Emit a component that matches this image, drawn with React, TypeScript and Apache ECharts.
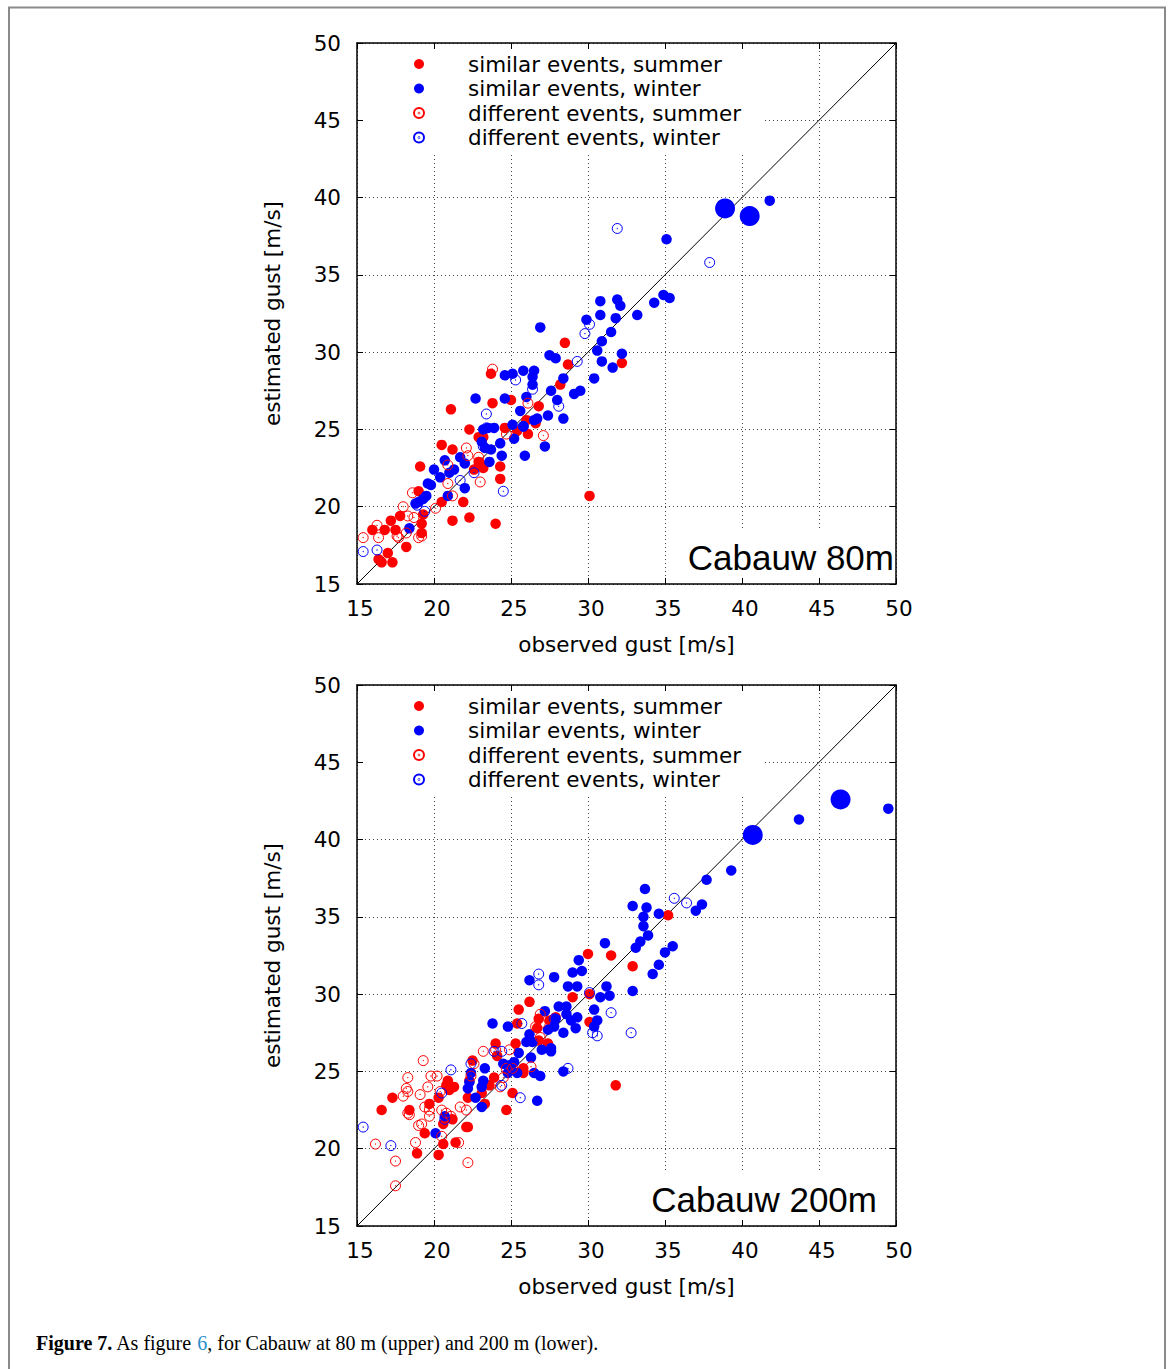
import React, { useEffect, useRef } from "react";
import * as echarts from "echarts";

// ---------- data ----------
const AXIS_MIN = 15;
const AXIS_MAX = 50;
const AXIS_STEP = 5;
const DIAGONAL = [[15, 15], [50, 50]];

const NAMES = [
  "similar events, summer",
  "similar events, winter",
  "different events, summer",
  "different events, winter",
];

// Cabauw 80 m
const SIM_SUMMER_80 = [
  [30.1, 20.7], [28.5, 30.6], [28.7, 29.2], [32.2, 29.3], [28.2, 27.9], [23.7, 28.6], [25.0, 26.9], [23.8, 26.7],
  [21.1, 26.3], [26.8, 26.5], [26.6, 25.4], [26.0, 25.6], [22.3, 25.0], [24.6, 25.1], [25.4, 24.9], [26.1, 24.7],
  [22.9, 24.5], [23.2, 24.5], [20.5, 24.0], [21.2, 23.7], [19.1, 22.6], [24.3, 22.6], [24.3, 21.8], [22.6, 22.4],
  [23.0, 22.8], [21.9, 20.3], [21.2, 19.1], [22.3, 19.3], [24.0, 18.9], [20.5, 20.3], [19.0, 21.0], [17.8, 19.4],
  [17.2, 19.1], [16.0, 18.5], [16.8, 18.5], [17.5, 18.5], [18.2, 17.4], [16.4, 16.6], [16.6, 16.4], [17.3, 16.4],
  [17.0, 17.0], [19.2, 18.9], [19.2, 18.3], [19.3, 19.5], [22.9, 22.9], [23.2, 22.5],
];
const SIM_WINTER_80 = [
  [41.8, 39.8], [35.1, 37.3], [34.3, 33.2], [34.9, 33.7], [35.3, 33.5], [33.2, 32.4], [30.8, 33.3], [31.9, 33.4],
  [32.1, 33.0], [30.8, 32.4], [31.8, 32.2], [29.9, 32.1], [31.5, 31.3], [30.9, 30.7], [30.6, 30.1], [30.9, 29.4],
  [31.6, 29.0], [32.2, 29.9], [30.4, 28.3], [26.9, 31.6], [27.5, 29.8], [27.9, 29.6], [28.4, 28.3], [27.6, 27.5],
  [29.1, 27.3], [29.5, 27.5], [28.0, 26.9], [28.4, 25.7], [27.4, 25.9], [26.7, 25.7], [26.5, 25.6], [24.6, 28.5],
  [25.1, 28.6], [25.8, 28.8], [26.5, 28.8], [26.4, 28.4], [26.4, 27.9], [26.0, 27.1], [24.6, 27.0], [22.7, 27.0],
  [25.6, 26.2], [25.1, 25.3], [25.8, 25.2], [25.2, 24.4], [25.9, 23.3], [27.2, 23.9], [24.4, 23.3], [24.3, 24.1],
  [23.5, 25.1], [23.9, 25.1], [23.2, 25.0], [23.1, 24.2], [23.3, 23.8], [23.7, 23.7], [23.6, 22.9], [21.7, 23.2],
  [22.0, 22.8], [20.7, 23.0], [20.0, 22.4], [20.4, 21.9], [21.3, 22.4], [21.0, 22.2], [19.6, 21.5], [19.8, 21.4],
  [22.0, 21.2], [20.9, 20.7], [19.5, 20.7], [19.3, 20.5], [18.8, 20.2], [19.0, 20.3], [18.4, 18.6],
];
const SIM_WINTER_80_BIG = [[38.9, 39.3], [40.5, 38.8]];
const DIFF_SUMMER_80 = [
  [23.8, 28.9], [26.1, 26.7], [27.1, 24.6], [24.7, 24.7], [22.1, 23.8], [22.2, 23.3], [22.9, 23.2], [20.9, 22.7],
  [20.9, 21.5], [23.0, 21.6], [21.2, 20.7], [18.6, 20.9], [18.0, 20.0], [18.3, 19.4], [18.7, 19.3], [20.1, 19.9],
  [19.2, 18.1], [19.0, 18.0], [15.4, 18.0], [16.4, 18.0], [16.3, 18.8], [17.6, 18.1], [17.7, 18.0], [18.2, 18.3],
];
const DIFF_WINTER_80 = [
  [31.9, 38.0], [37.9, 35.8], [30.1, 31.8], [29.8, 31.2], [29.3, 29.4], [25.3, 28.2], [26.4, 27.6], [28.1, 26.5],
  [23.4, 26.0], [24.5, 21.0], [25.8, 25.2], [23.4, 25.1], [23.2, 23.9], [22.6, 22.2], [21.7, 21.7], [18.9, 20.1],
  [19.4, 19.7], [15.4, 17.1], [16.3, 17.2],
];

// Cabauw 200 m
const SIM_SUMMER_200 = [
  [35.2, 35.1], [30.0, 32.6], [31.5, 32.5], [32.9, 31.8], [31.8, 24.1], [29.0, 29.8], [30.1, 30.0], [30.1, 28.2],
  [26.2, 29.5], [25.5, 29.0], [25.4, 28.1], [26.8, 28.4], [26.7, 27.8], [27.5, 28.3], [27.9, 28.5], [26.8, 27.0],
  [27.4, 26.8], [24.0, 26.8], [25.3, 26.8], [22.5, 25.7], [24.1, 26.0], [25.8, 24.9], [25.0, 25.3], [25.8, 25.2],
  [23.9, 24.6], [23.6, 24.1], [25.1, 23.6], [24.7, 22.5], [20.9, 24.4], [21.3, 24.0], [21.0, 23.8], [20.8, 24.1],
  [20.3, 23.3], [19.7, 22.9], [18.4, 22.5], [17.3, 23.3], [16.6, 22.5], [22.3, 24.4], [22.2, 23.3], [22.1, 21.4],
  [22.2, 21.4], [20.6, 21.6], [21.2, 21.9], [19.4, 21.0], [20.6, 20.3], [21.4, 20.4], [18.9, 19.7], [20.3, 19.6],
  [23.1, 23.6], [23.3, 22.9],
];
const SIM_WINTER_200 = [
  [49.5, 42.0], [43.7, 41.3], [39.3, 38.0], [37.7, 37.4], [33.7, 36.8], [32.9, 35.7], [33.8, 35.6], [33.6, 35.0],
  [34.6, 35.2], [37.4, 35.8], [37.0, 35.4], [33.6, 34.4], [33.9, 33.8], [33.4, 33.4], [33.1, 33.0], [31.1, 33.3],
  [35.5, 33.1], [35.0, 32.7], [34.6, 31.9], [34.2, 31.3], [32.9, 30.2], [31.2, 30.5], [30.8, 29.8], [31.4, 29.9],
  [29.4, 32.2], [29.0, 31.4], [29.6, 31.5], [28.7, 30.5], [29.3, 30.5], [30.4, 29.0], [30.6, 28.3], [30.4, 27.9],
  [27.8, 31.1], [26.2, 30.9], [28.1, 29.2], [28.6, 29.2], [28.6, 28.7], [28.9, 28.3], [29.3, 28.5], [29.2, 27.8],
  [28.4, 27.5], [27.2, 28.9], [27.9, 28.4], [27.8, 27.9], [27.4, 27.7], [23.8, 28.1], [24.8, 27.9], [26.2, 27.4],
  [26.0, 26.9], [26.4, 26.9], [27.0, 26.4], [27.6, 26.5], [27.6, 26.3], [25.5, 26.2], [26.3, 25.9], [24.5, 25.5],
  [24.9, 25.4], [25.2, 25.6], [25.4, 24.9], [24.8, 24.9], [23.3, 25.2], [26.5, 24.9], [26.9, 24.7], [28.4, 25.0],
  [26.7, 23.1], [22.4, 24.9], [22.3, 24.3], [23.2, 24.4], [23.1, 24.0], [22.2, 23.9], [22.7, 23.3], [23.1, 22.7],
  [20.7, 22.1], [20.1, 21.0],
];
const SIM_WINTER_200_BIG = [[46.4, 42.6], [40.7, 40.3]];
const DIFF_SUMMER_200 = [
  [19.3, 25.7], [18.3, 24.6], [19.8, 24.7], [20.2, 24.7], [18.2, 23.9], [18.3, 23.7], [18.0, 23.4], [19.6, 24.0],
  [19.1, 23.5], [19.4, 22.7], [19.7, 22.5], [19.7, 22.1], [18.3, 22.3], [18.4, 22.2], [19.2, 21.6], [19.0, 21.5],
  [18.8, 20.4], [16.2, 20.3], [17.5, 19.2], [17.5, 17.6], [22.2, 19.1], [20.5, 20.8], [21.6, 20.4], [20.5, 22.5],
  [20.8, 22.3], [21.1, 22.1], [21.7, 22.7], [22.1, 22.5], [20.4, 23.7], [22.6, 25.5], [23.2, 26.3], [24.0, 26.4],
  [24.9, 26.4], [22.4, 24.7], [24.5, 24.6], [24.3, 24.0], [24.7, 25.2], [25.1, 25.2], [26.3, 25.3], [26.6, 27.9],
  [26.9, 28.1], [26.9, 28.7], [26.9, 27.2],
];
const DIFF_WINTER_200 = [
  [35.6, 36.2], [36.4, 35.9], [15.4, 21.4], [17.2, 20.2], [21.1, 25.1], [20.5, 23.6], [20.7, 21.9], [25.6, 23.3],
  [28.7, 25.2], [32.8, 27.5], [31.5, 28.8], [30.3, 27.5], [30.6, 27.3], [30.1, 30.1], [26.8, 31.3], [26.8, 30.6],
  [25.7, 28.1], [27.8, 28.4], [23.9, 26.3], [24.4, 26.3], [24.4, 24.1], [24.9, 25.2], [22.4, 25.5],
];

const PANELS = [
  { label: "Cabauw 80m", s: SIM_SUMMER_80, w: SIM_WINTER_80, wBig: SIM_WINTER_80_BIG, ds: DIFF_SUMMER_80, dw: DIFF_WINTER_80 },
  { label: "Cabauw 200m", s: SIM_SUMMER_200, w: SIM_WINTER_200, wBig: SIM_WINTER_200_BIG, ds: DIFF_SUMMER_200, dw: DIFF_WINTER_200 },
];

// ---------- styling / layout ----------
const SANS = '"DejaVu Sans", sans-serif';
const LABEL_SANS = '"Liberation Sans", Arial, sans-serif';
const SERIF = '"Liberation Serif", "Times New Roman", serif';
const RED = "#ff0000";
const BLUE = "#0000ff";
const RING = "path://M10,0A10,10,0,1,1,-10,0A10,10,0,1,1,10,0ZM0.6,0A0.6,0.6,0,1,1,-0.6,0A0.6,0.6,0,1,1,0.6,0Z";

const GRID_LEFT = 357;
const GRID_W = 539;
const GRID_TOPS = [43, 685];
const GRID_H = 541;

function App() {
  const ref = useRef<HTMLDivElement>(null);

  useEffect(() => {
    if (!ref.current) return;
    const chart = echarts.init(ref.current, null, { renderer: "svg" });

    const grids: any[] = [];
    const xAxes: any[] = [];
    const yAxes: any[] = [];
    const series: any[] = [];
    const legends: any[] = [];
    const graphics: any[] = [];

    const tick = { show: true, inside: true, length: 6, lineStyle: { color: "#000", width: 1 } };
    const line = { show: true, onZero: false, lineStyle: { color: "#000", width: 1.5 } };
    const split = { show: true, lineStyle: { color: "#444", width: 1, type: [1, 3] } };
    const label = { show: true, fontSize: 21.5, fontFamily: SANS, color: "#000" };
    const nameStyle = { fontSize: 21.5, fontFamily: SANS, color: "#000" };
    const off = { show: false };

    PANELS.forEach((p, gi) => {
      grids.push({ left: GRID_LEFT, top: GRID_TOPS[gi], width: GRID_W, height: GRID_H, containLabel: false });
      const base = { type: "value", gridIndex: gi, min: AXIS_MIN, max: AXIS_MAX, interval: AXIS_STEP };
      // gridlines + labels (drawn low)
      xAxes.push({
        ...base, position: "bottom", z: 0, axisLine: off, axisTick: off,
        axisLabel: { ...label, margin: 13, padding: [0, 0, 0, 6] }, splitLine: split,
        name: "observed gust [m/s]", nameLocation: "middle", nameGap: 49, nameTextStyle: nameStyle,
      });
      // frame + inward ticks (drawn on top)
      xAxes.push({ ...base, position: "bottom", z: 10, axisLine: line, axisTick: tick, axisLabel: off, splitLine: off });
      xAxes.push({ ...base, position: "top", z: 10, axisLine: line, axisTick: tick, axisLabel: off, splitLine: off });
      yAxes.push({
        ...base, position: "left", z: 0, axisLine: off, axisTick: off,
        axisLabel: { ...label, margin: 16 }, splitLine: split,
        name: "estimated gust [m/s]", nameLocation: "middle", nameGap: 74, nameTextStyle: nameStyle,
      });
      yAxes.push({ ...base, position: "left", z: 10, axisLine: line, axisTick: tick, axisLabel: off, splitLine: off });
      yAxes.push({ ...base, position: "right", z: 10, axisLine: line, axisTick: tick, axisLabel: off, splitLine: off });

      const ax = gi * 3;
      series.push({
        type: "line", xAxisIndex: ax, yAxisIndex: ax, data: DIAGONAL, showSymbol: false, symbol: "none",
        lineStyle: { color: "#000", width: 1 }, silent: true, z: 1,
      });
      const filled = (name: string, data: number[][], color: string, size: number) => ({
        type: "scatter", name, xAxisIndex: ax, yAxisIndex: ax, data, symbol: "circle", symbolSize: size,
        itemStyle: { color, opacity: 1 }, z: 3,
      });
      const ring = (name: string, data: number[][], color: string) => ({
        type: "scatter", name, xAxisIndex: ax, yAxisIndex: ax, data, symbol: RING, symbolSize: 10,
        itemStyle: { color: "rgba(0,0,0,0)", borderColor: color, borderWidth: 1, opacity: 1 }, z: 3,
      });
      series.push(filled(NAMES[0], p.s, RED, 10.5));
      series.push(filled(NAMES[1], p.w, BLUE, 10.5));
      series.push(filled(NAMES[1], p.wBig, BLUE, 20));
      series.push(ring(NAMES[2], p.ds, RED));
      series.push(ring(NAMES[3], p.dw, BLUE));

      const top = GRID_TOPS[gi];
      legends.push({
        data: NAMES, orient: "vertical", left: 359, top: top + 2, z: 4,
        padding: [6.75, 22, 3, 54], backgroundColor: "#fff",
        itemWidth: 10, itemHeight: 10, itemGap: 0, selectedMode: false,
        textStyle: { fontSize: 21.5, fontFamily: SANS, color: "#000", lineHeight: 24.5, padding: [0, 0, 0, 39] },
      });

      const boxLeft = gi === 0 ? 680 : 643;
      const textRight = gi === 0 ? 894 : 877;
      graphics.push({
        type: "rect", z: 5, silent: true,
        shape: { x: boxLeft, y: top + 487, width: 896 - boxLeft, height: 54 },
        style: { fill: "#fff" },
      });
      graphics.push({
        type: "text", z: 6, silent: true, x: textRight, y: top + 514,
        style: { text: p.label, font: `35px ${LABEL_SANS}`, fill: "#000", textAlign: "right", verticalAlign: "middle" },
      });
    });

    graphics.push({
      type: "polyline", silent: true, z: 10,
      shape: { points: [[9, 1369], [9, 7.5], [1165, 7.5], [1165, 1369]] },
      style: { stroke: "#8a8a8a", lineWidth: 2, fill: null },
    });
    graphics.push({
      type: "text", silent: true, z: 10, x: 36, y: 1343,
      style: {
        text: "{b|Figure 7.} As figure {l|6}, for Cabauw at 80 m (upper) and 200 m (lower).",
        font: `20px ${SERIF}`, fill: "#000", verticalAlign: "middle",
        rich: {
          b: { fontWeight: "bold", fontSize: 20, fontFamily: SERIF, fill: "#000" },
          l: { fontSize: 20, fontFamily: SERIF, fill: "#2a8fcc" },
        },
      },
    });

    chart.setOption({
      animation: false,
      backgroundColor: "#fff",
      grid: grids,
      xAxis: xAxes,
      yAxis: yAxes,
      legend: legends,
      series,
      graphic: graphics,
    });

    return () => chart.dispose();
  }, []);

  return <div ref={ref} style={{ position: "absolute", left: 0, top: 0, width: 1171, height: 1369 }} />;
}

export default App;
